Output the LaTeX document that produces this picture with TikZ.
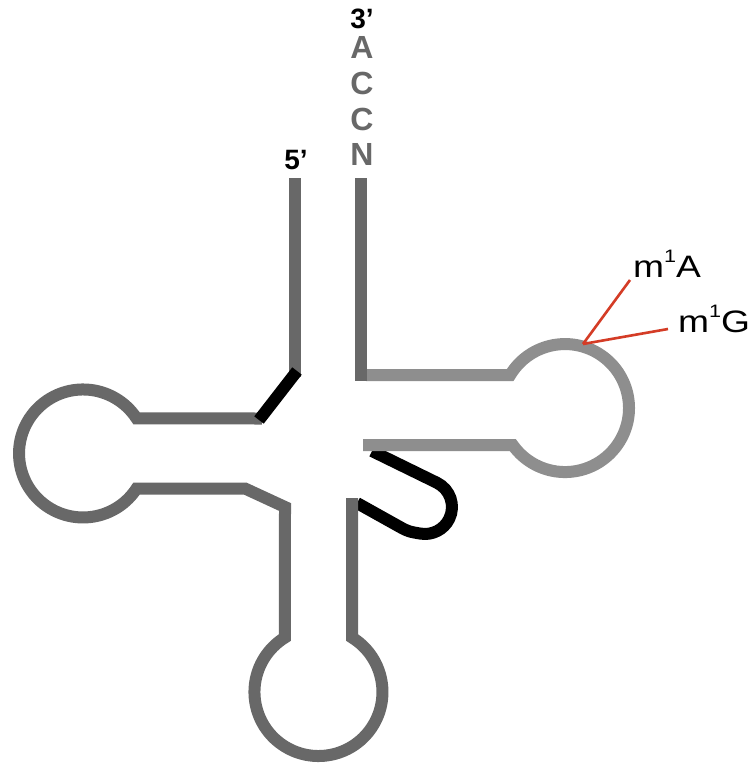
\documentclass[tikz,border=0pt]{standalone}
\usepackage{fontspec}
\setmainfont{Liberation Sans}
\definecolor{dgray}{RGB}{104,104,104}
\definecolor{lgray}{RGB}{142,142,142}
\definecolor{myred}{RGB}{212,60,38}
\tikzset{
  darkstrand/.style={draw=dgray, line width=12pt},
  lightstrand/.style={draw=lgray, line width=12pt},
  blackstrand/.style={draw=black, line width=12pt},
  redline/.style={draw=myred, line width=2.6pt},
  endlabel/.style={font=\bfseries\fontsize{28}{28}\selectfont, inner sep=0pt, anchor=base, text depth=0pt},
  baselabel/.style={font=\bfseries\fontsize{32}{32}\selectfont, text=dgray, inner sep=0pt, anchor=base, text depth=0pt},
  modlabel/.style={font=\fontsize{31}{31}\selectfont, inner sep=0pt, anchor=base west}
}
\newcommand{\modtxt}[2]{\scalebox{1.2}[1]{#1\raisebox{15pt}{\fontsize{18}{18}\selectfont 1}#2}}
\begin{document}
\begin{tikzpicture}[x=1pt,y=1pt,yscale=-1]
\useasboundingbox (0,0) rectangle (753,771);
\fill[white] (0,0) rectangle (753,771);

% variable loop (black), drawn first so gray covers its ends
\draw[blackstrand] (372,451) -- (436.8,482.7)
  arc[start angle=-64, end angle=100, radius=27]
  .. controls +(-9.8,-1.7) and +(8.7,4.9) .. (400,527) -- (357,503);

% anticodon arm + D arm (one strand)
\draw[darkstrand, line join=miter] (352,498) -- (352,637.5)
  arc[start angle=-58.4, end angle=238.4, radius=64]
  -- (285,507) -- (245,488.5) -- (143,488.5) -- (136.6,488.5)
  arc[start angle=33.2, end angle=326.8, radius=64]
  -- (262,418.5);

% T arm (light gray)
\draw[lightstrand, line join=miter] (366,375) -- (510.2,375)
  arc[start angle=-148.9, end angle=144.7, radius=64] -- (363,445);

% acceptor stem
\draw[darkstrand] (295,178) -- (295,377);
\draw[darkstrand] (360.5,178) -- (360.5,381);
\draw[blackstrand] (297,371) -- (259,420);

% labels at the ends
\node[endlabel] (p5) at (296,169) {5’};
\node[endlabel] (p3) at (362,28) {3’};
\node[baselabel] (bA) at (362,58) {A};
\node[baselabel] (bC1) at (362,94) {C};
\node[baselabel] (bC2) at (362,130) {C};
\node[baselabel] (bN) at (362,165) {N};

% modification labels
\coordinate (site) at (583,344);
\coordinate (endA) at (630,280);
\coordinate (endG) at (668,329);
\draw[redline] (site) -- (endA);
\draw[redline] (site) -- (endG);
\node[modlabel] (mA) at (633,277) {\modtxt{m}{A}};
\node[modlabel] (mG) at (678,332) {\modtxt{m}{G}};
\end{tikzpicture}
\end{document}
